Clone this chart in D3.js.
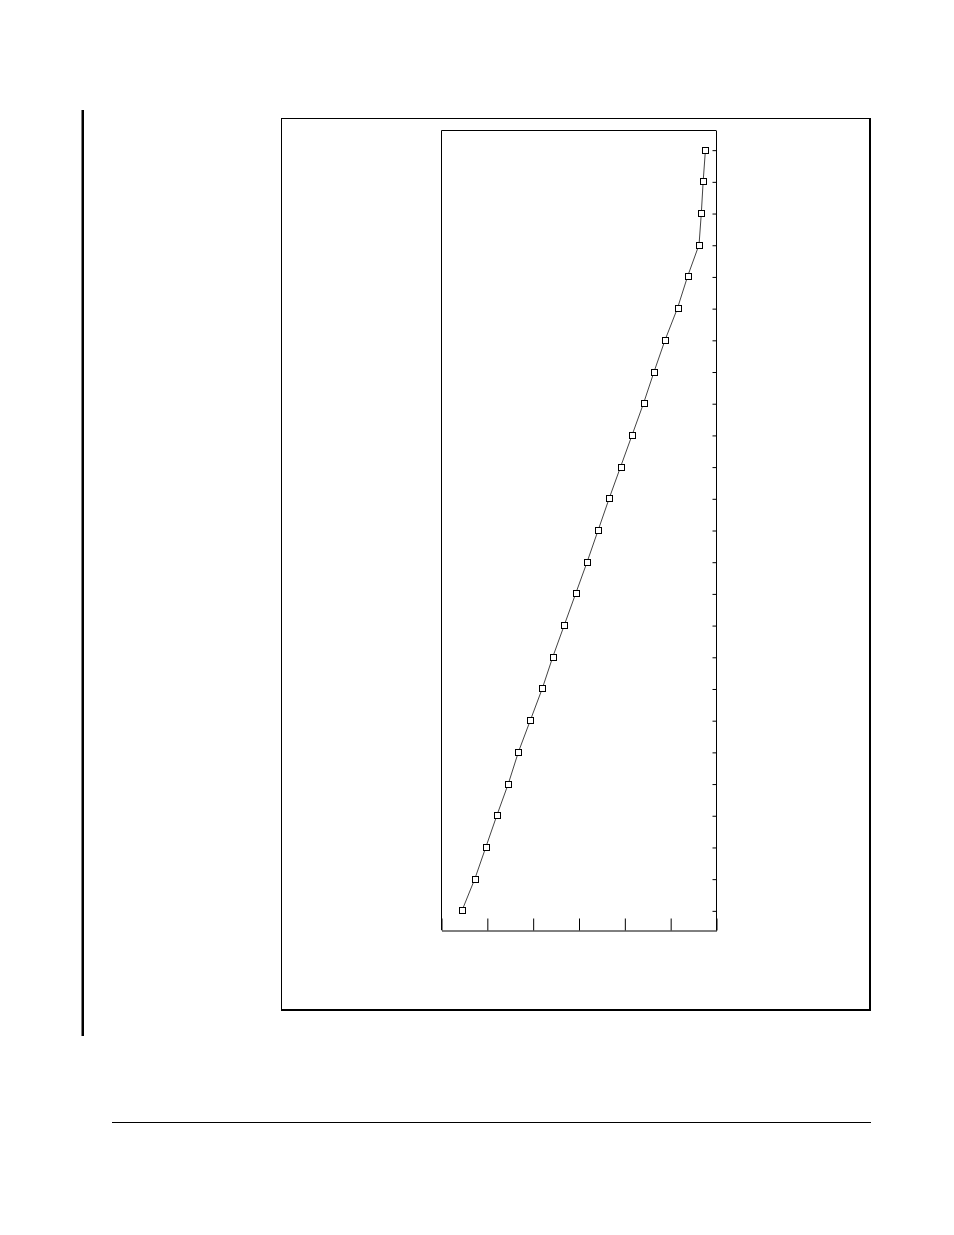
<!DOCTYPE html>
<html>
<head>
<meta charset="utf-8">
<script src="https://cdn.jsdelivr.net/npm/d3@7"></script>
<style>
  html, body { margin: 0; padding: 0; background: #fff; }
  svg { display: block; }
</style>
</head>
<body>
<div id="chart"></div>
<script>
// data: one value per row, bottom row first
const rows = d3.range(1, 26);
const values = [4.6, 7.4, 9.8, 12.2, 14.7, 16.9, 19.5, 22.1, 24.4, 26.9,
                29.4, 31.9, 34.3, 36.7, 39.2, 41.7, 44.2, 46.5, 48.9, 51.6,
                53.8, 56.3, 56.8, 57.2, 57.7];
const xTicks = [0, 10, 20, 30, 40, 50, 60];

const width = 954;
const height = 1235;

const svg = d3.select('#chart')
    .append('svg')
    .attr('width', width)
    .attr('height', height);

// page furniture: side bar and bottom rule
svg.append('rect')
    .attr('x', 81.5).attr('y', 110)
    .attr('width', 2.5).attr('height', 926)
    .attr('fill', '#000');

svg.append('line')
    .attr('x1', 112).attr('x2', 871)
    .attr('y1', 1122.5).attr('y2', 1122.5)
    .attr('stroke', '#000').attr('stroke-width', 1);

// outer frame, heavier right and bottom edges
svg.append('rect')
    .attr('x', 281.5).attr('y', 118.5)
    .attr('width', 588).attr('height', 891)
    .attr('fill', 'none')
    .attr('stroke', '#000')
    .attr('stroke-width', 1);
svg.append('line')
    .attr('x1', 870).attr('x2', 870)
    .attr('y1', 118).attr('y2', 1011)
    .attr('stroke', '#000').attr('stroke-width', 2);
svg.append('line')
    .attr('x1', 281).attr('x2', 871)
    .attr('y1', 1010).attr('y2', 1010)
    .attr('stroke', '#000').attr('stroke-width', 2);

// plot box
const plot = {l: 441, r: 716, t: 130, b: 930};

const x = d3.scaleLinear()
    .domain([0, 60])
    .range([plot.l, plot.r]);

const y = d3.scalePoint()
    .domain(rows)
    .range([plot.b, plot.t])
    .padding(0.62);

// top and left edges
svg.append('path')
    .attr('d', `M${plot.l + 0.5},${plot.b}V${plot.t + 0.5}H${plot.r}`)
    .attr('fill', 'none')
    .attr('stroke', '#000')
    .attr('stroke-width', 1);

// bottom axis, ticks pointing up into the plot
svg.append('g')
    .attr('transform', `translate(0.5,${plot.b + 0.5})`)
    .call(d3.axisTop(x).tickValues(xTicks).tickSize(12).tickSizeOuter(0).tickFormat(''))
    .call(g => g.selectAll('path, line').attr('stroke', '#000'));

// right axis, short ticks pointing inward
svg.append('g')
    .attr('transform', `translate(${plot.r + 0.5},0.5)`)
    .call(d3.axisLeft(y).tickSize(4).tickSizeOuter(0).tickFormat(''))
    .call(g => g.select('.domain').attr('d', `M0,${plot.t}V${plot.b}`))
    .call(g => g.selectAll('path, line').attr('stroke', '#000'));

// series
const pts = rows.map((r, i) => ({row: r, v: values[i]}));

const line = d3.line()
    .x(d => x(d.v))
    .y(d => y(d.row));

svg.append('path')
    .datum(pts)
    .attr('d', line)
    .attr('fill', 'none')
    .attr('stroke', '#444')
    .attr('stroke-width', 1);

svg.selectAll('.marker')
    .data(pts)
    .enter()
    .append('rect')
    .classed('marker', true)
    .attr('x', d => Math.round(x(d.v)) - 3 + 0.5)
    .attr('y', d => Math.round(y(d.row)) - 3 + 0.5)
    .attr('width', 6)
    .attr('height', 6)
    .attr('fill', '#fff')
    .attr('stroke', '#000')
    .attr('stroke-width', 1);
</script>
</body>
</html>
